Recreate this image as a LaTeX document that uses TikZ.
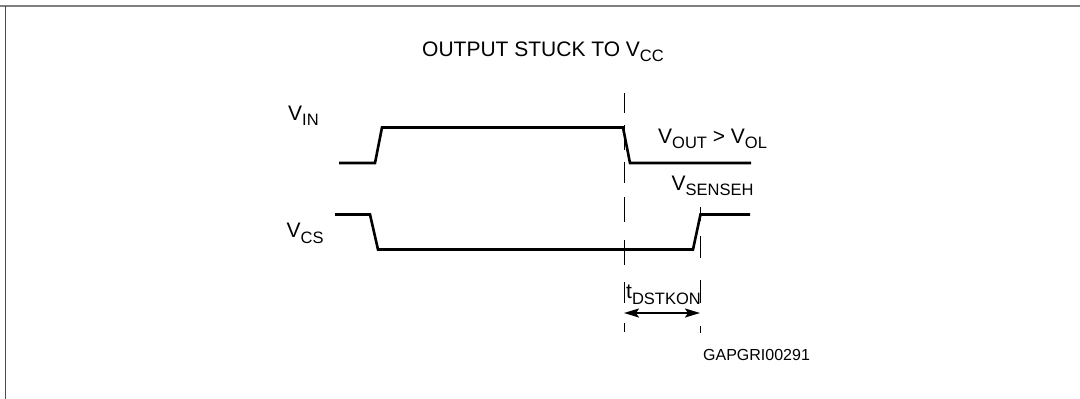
\documentclass[tikz,border=0pt]{standalone}
\usepackage{fontspec}
\setmainfont{Liberation Sans}
\usetikzlibrary{arrows.meta}
\newcommand\sbx[1]{\raisebox{-5.5pt}{\fontsize{16.5}{16}\selectfont #1}}
\tikzset{
  lbl/.style={anchor=base west, inner sep=0pt, font=\fontsize{21}{24}\selectfont},
  smalllbl/.style={anchor=base west, inner sep=0pt, font=\fontsize{16}{18}\selectfont},
  wave/.style={line width=2.6pt, line join=miter},
  guide/.style={line width=1pt},
  dimarrow/.style={line width=2pt, {Stealth[length=15pt,width=9pt,inset=3pt]}-{Stealth[length=15pt,width=9pt,inset=3pt]}}
}
\begin{document}
\begin{tikzpicture}[x=1pt,y=-1pt]
\useasboundingbox (0,0) rectangle (1080,399);
\fill[white] (0,0) rectangle (1080,399);
% frame
\draw[line width=2pt, color=black!50] (0,5.5) -- (1080,5.5);
\draw[line width=1.5pt, color=black!70] (5.5,6) -- (5.5,399);
% title
\node[lbl] (title) at (422,56) {OUTPUT STUCK TO V\sbx{CC}};
% labels
\node[lbl] (vin) at (288,120) {V\sbx{IN}};
\node[lbl] (vout) at (658,143) {V\sbx{OUT} > V\sbx{OL}};
\node[lbl] (vsense) at (671.5,190) {V\sbx{SENSEH}};
\node[lbl] (vcs) at (286.5,237.5) {V\sbx{CS}};
\node[lbl] (tdst) at (626,298.5) {t\sbx{DSTKON}};
\node[smalllbl] (code) at (703,360) {GAPGRI00291};
% waveforms
\draw[wave] (339,163) -- (375,163) -- (382,127.5) -- (623,127.5) -- (630,163) -- (751,163);
\draw[wave] (335,214.5) -- (370,214.5) -- (378,249.5) -- (693,249.5) -- (700.5,214.5) -- (750,214.5);
% guide lines (dashed)
\foreach \a/\b in {93/113,125/150,162/183,197/222,240/265,282/303,323/332}
  \draw[guide] (624,\a) -- (624,\b);
\foreach \a/\b in {207/221,236/258,280/303,326/333}
  \draw[guide] (700,\a) -- (700,\b);
% dimension arrow
\coordinate (tl) at (624,313);
\coordinate (tr) at (700,313);
\draw[dimarrow] (tl) -- (tr);
\end{tikzpicture}
\end{document}
